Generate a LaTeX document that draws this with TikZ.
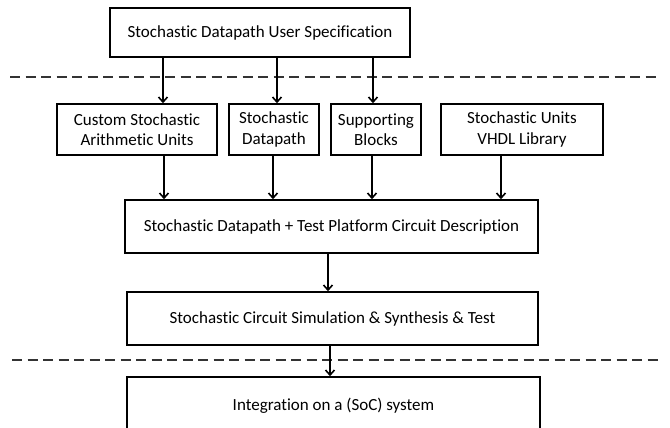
\documentclass[tikz,border=0pt]{standalone}
\usepackage{fontspec}
\setmainfont[Ligatures={NoCommon,NoRequired,NoContextual}]{Carlito}
\usetikzlibrary{arrows.meta}
\begin{document}
\begin{tikzpicture}[x=1pt,y=-1pt,
  box/.style={draw=black,line width=1.6pt,fill=white,align=center,inner sep=0pt,
    font=\fontsize{17}{20.5}\selectfont},
  arr/.style={line width=1.6pt,-{Straight Barb[length=5pt,width=9pt,line width=1.6pt]}},
  sep/.style={draw=black!80,line width=1.3pt,dash pattern=on 10pt off 5.5pt}]
\path[use as bounding box] (0,0) rectangle (670,428);
\clip (0,0) rectangle (670,428);
\node[box,minimum width=300pt,minimum height=49pt] (spec) at (260,32.5) {Stochastic Datapath User Specification};
\node[box,minimum width=160pt,minimum height=51pt] (cust) at (137,129.5) {Custom Stochastic\\Arithmetic Units};
\node[box,minimum width=90pt,minimum height=51pt] (dp) at (274,129.5) {Stochastic\\Datapath};
\node[box,minimum width=90pt,minimum height=51pt] (sup) at (376,129.5) {Supporting\\Blocks};
\node[box,minimum width=162pt,minimum height=51pt] (lib) at (522,129.5) {Stochastic Units\\VHDL Library};
\node[box,minimum width=413pt,minimum height=53pt] (desc) at (331.5,226.5) {Stochastic Datapath + Test Platform Circuit Description};
\node[box,minimum width=411pt,minimum height=53pt] (sim) at (332.5,318.5) {Stochastic Circuit Simulation \& Synthesis \& Test};
\node[box,minimum width=413pt,minimum height=58pt] (integ) at (333.5,406) {Integration on a (SoC) system};
\coordinate (d1a) at (10,77);
\coordinate (d1b) at (656,77);
\coordinate (d2a) at (12,360);
\coordinate (d2b) at (658,360);
\draw[sep] (d1a) -- (d1b);
\draw[sep] (d2a) -- (d2b);
\coordinate (xa) at (163,0);
\coordinate (xb) at (277,0);
\coordinate (xc) at (373,0);
\draw[arr] (spec.south -| xa) -- (cust.north -| xa);
\draw[arr] (spec.south -| xb) -- (dp.north -| xb);
\draw[arr] (spec.south -| xc) -- (sup.north -| xc);
\coordinate (ya) at (164,0);
\coordinate (yb) at (273,0);
\coordinate (yc) at (372,0);
\coordinate (yd) at (501,0);
\draw[arr] (cust.south -| ya) -- (desc.north -| ya);
\draw[arr] (dp.south -| yb) -- (desc.north -| yb);
\draw[arr] (sup.south -| yc) -- (desc.north -| yc);
\draw[arr] (lib.south -| yd) -- (desc.north -| yd);
\coordinate (za) at (328,0);
\coordinate (zb) at (330,0);
\draw[arr] (desc.south -| za) -- (sim.north -| za);
\draw[arr] (sim.south -| zb) -- (integ.north -| zb);
\end{tikzpicture}
\end{document}
